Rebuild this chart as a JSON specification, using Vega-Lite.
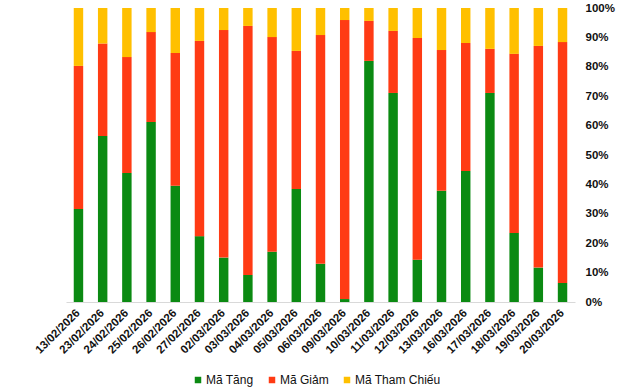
{
  "$schema": "https://vega.github.io/schema/vega-lite/v6.json",
  "width": 509,
  "height": 294,
  "autosize": {"type": "none"},
  "padding": {"left": 66, "top": 8, "right": 65, "bottom": 86},
  "background": "white",
  "config": {
    "view": {"stroke": null},
    "font": "Liberation Sans"
  },
  "data": {
    "values": [
      {"date": "13/02/2026", "series": "Mã Tăng", "idx": 1, "value": 31.6},
      {"date": "13/02/2026", "series": "Mã Giảm", "idx": 2, "value": 48.7},
      {"date": "13/02/2026", "series": "Mã Tham Chiếu", "idx": 3, "value": 19.7},
      {"date": "23/02/2026", "series": "Mã Tăng", "idx": 1, "value": 56.5},
      {"date": "23/02/2026", "series": "Mã Giảm", "idx": 2, "value": 31.4},
      {"date": "23/02/2026", "series": "Mã Tham Chiếu", "idx": 3, "value": 12.1},
      {"date": "24/02/2026", "series": "Mã Tăng", "idx": 1, "value": 43.9},
      {"date": "24/02/2026", "series": "Mã Giảm", "idx": 2, "value": 39.4},
      {"date": "24/02/2026", "series": "Mã Tham Chiếu", "idx": 3, "value": 16.7},
      {"date": "25/02/2026", "series": "Mã Tăng", "idx": 1, "value": 61.2},
      {"date": "25/02/2026", "series": "Mã Giảm", "idx": 2, "value": 30.6},
      {"date": "25/02/2026", "series": "Mã Tham Chiếu", "idx": 3, "value": 8.2},
      {"date": "26/02/2026", "series": "Mã Tăng", "idx": 1, "value": 39.5},
      {"date": "26/02/2026", "series": "Mã Giảm", "idx": 2, "value": 45.2},
      {"date": "26/02/2026", "series": "Mã Tham Chiếu", "idx": 3, "value": 15.3},
      {"date": "27/02/2026", "series": "Mã Tăng", "idx": 1, "value": 22.4},
      {"date": "27/02/2026", "series": "Mã Giảm", "idx": 2, "value": 66.4},
      {"date": "27/02/2026", "series": "Mã Tham Chiếu", "idx": 3, "value": 11.2},
      {"date": "02/03/2026", "series": "Mã Tăng", "idx": 1, "value": 15.1},
      {"date": "02/03/2026", "series": "Mã Giảm", "idx": 2, "value": 77.4},
      {"date": "02/03/2026", "series": "Mã Tham Chiếu", "idx": 3, "value": 7.5},
      {"date": "03/03/2026", "series": "Mã Tăng", "idx": 1, "value": 9.2},
      {"date": "03/03/2026", "series": "Mã Giảm", "idx": 2, "value": 84.7},
      {"date": "03/03/2026", "series": "Mã Tham Chiếu", "idx": 3, "value": 6.1},
      {"date": "04/03/2026", "series": "Mã Tăng", "idx": 1, "value": 17.1},
      {"date": "04/03/2026", "series": "Mã Giảm", "idx": 2, "value": 73.0},
      {"date": "04/03/2026", "series": "Mã Tham Chiếu", "idx": 3, "value": 9.9},
      {"date": "05/03/2026", "series": "Mã Tăng", "idx": 1, "value": 38.4},
      {"date": "05/03/2026", "series": "Mã Giảm", "idx": 2, "value": 47.0},
      {"date": "05/03/2026", "series": "Mã Tham Chiếu", "idx": 3, "value": 14.6},
      {"date": "06/03/2026", "series": "Mã Tăng", "idx": 1, "value": 13.0},
      {"date": "06/03/2026", "series": "Mã Giảm", "idx": 2, "value": 77.8},
      {"date": "06/03/2026", "series": "Mã Tham Chiếu", "idx": 3, "value": 9.2},
      {"date": "09/03/2026", "series": "Mã Tăng", "idx": 1, "value": 1.0},
      {"date": "09/03/2026", "series": "Mã Giảm", "idx": 2, "value": 94.9},
      {"date": "09/03/2026", "series": "Mã Tham Chiếu", "idx": 3, "value": 4.1},
      {"date": "10/03/2026", "series": "Mã Tăng", "idx": 1, "value": 82.0},
      {"date": "10/03/2026", "series": "Mã Giảm", "idx": 2, "value": 13.6},
      {"date": "10/03/2026", "series": "Mã Tham Chiếu", "idx": 3, "value": 4.4},
      {"date": "11/03/2026", "series": "Mã Tăng", "idx": 1, "value": 71.1},
      {"date": "11/03/2026", "series": "Mã Giảm", "idx": 2, "value": 21.1},
      {"date": "11/03/2026", "series": "Mã Tham Chiếu", "idx": 3, "value": 7.8},
      {"date": "12/03/2026", "series": "Mã Tăng", "idx": 1, "value": 14.4},
      {"date": "12/03/2026", "series": "Mã Giảm", "idx": 2, "value": 75.4},
      {"date": "12/03/2026", "series": "Mã Tham Chiếu", "idx": 3, "value": 10.2},
      {"date": "13/03/2026", "series": "Mã Tăng", "idx": 1, "value": 37.8},
      {"date": "13/03/2026", "series": "Mã Giảm", "idx": 2, "value": 47.9},
      {"date": "13/03/2026", "series": "Mã Tham Chiếu", "idx": 3, "value": 14.3},
      {"date": "16/03/2026", "series": "Mã Tăng", "idx": 1, "value": 44.6},
      {"date": "16/03/2026", "series": "Mã Giảm", "idx": 2, "value": 43.5},
      {"date": "16/03/2026", "series": "Mã Tham Chiếu", "idx": 3, "value": 11.9},
      {"date": "17/03/2026", "series": "Mã Tăng", "idx": 1, "value": 71.1},
      {"date": "17/03/2026", "series": "Mã Giảm", "idx": 2, "value": 15.0},
      {"date": "17/03/2026", "series": "Mã Tham Chiếu", "idx": 3, "value": 13.9},
      {"date": "18/03/2026", "series": "Mã Tăng", "idx": 1, "value": 23.5},
      {"date": "18/03/2026", "series": "Mã Giảm", "idx": 2, "value": 60.9},
      {"date": "18/03/2026", "series": "Mã Tham Chiếu", "idx": 3, "value": 15.6},
      {"date": "19/03/2026", "series": "Mã Tăng", "idx": 1, "value": 11.7},
      {"date": "19/03/2026", "series": "Mã Giảm", "idx": 2, "value": 75.4},
      {"date": "19/03/2026", "series": "Mã Tham Chiếu", "idx": 3, "value": 12.9},
      {"date": "20/03/2026", "series": "Mã Tăng", "idx": 1, "value": 6.5},
      {"date": "20/03/2026", "series": "Mã Giảm", "idx": 2, "value": 81.9},
      {"date": "20/03/2026", "series": "Mã Tham Chiếu", "idx": 3, "value": 11.6}
    ]
  },
  "mark": {"type": "bar"},
  "encoding": {
    "x": {
      "field": "date",
      "type": "nominal",
      "sort": null,
      "scale": {"paddingInner": 0.61, "paddingOuter": 0.32},
      "axis": {
        "title": null,
        "labelAngle": -45,
        "labelAlign": "right",
        "labelBaseline": "middle",
        "labelFontSize": 11.5,
        "labelFontWeight": "bold",
        "labelColor": "#111111",
        "labelPadding": 9,
        "labelOverlap": false,
        "ticks": false,
        "domainColor": "#D9D9D9",
        "domainWidth": 1,
        "grid": false
      }
    },
    "y": {
      "field": "value",
      "type": "quantitative",
      "stack": "normalize",
      "scale": {"domain": [0, 1]},
      "axis": {
        "orient": "right",
        "title": null,
        "format": ".0%",
        "values": [0, 0.1, 0.2, 0.3, 0.4, 0.5, 0.6, 0.7, 0.8, 0.9, 1],
        "labelFontSize": 11.5,
        "labelFontWeight": "bold",
        "labelColor": "#111111",
        "labelPadding": 10,
        "ticks": false,
        "domain": false,
        "grid": false
      }
    },
    "color": {
      "field": "series",
      "type": "nominal",
      "scale": {
        "domain": ["Mã Tăng", "Mã Giảm", "Mã Tham Chiếu"],
        "range": ["#0B8A12", "#FF3B14", "#FFC000"]
      },
      "legend": {
        "title": null,
        "orient": "none",
        "direction": "horizontal",
        "legendX": 126,
        "legendY": 366,
        "symbolType": "square",
        "symbolSize": 42,
        "symbolStrokeWidth": 0,
        "labelFontSize": 12,
        "labelColor": "#111111",
        "labelOffset": 2,
        "columnPadding": 12
      }
    },
    "order": {"field": "idx", "type": "quantitative", "sort": "ascending"}
  }
}
